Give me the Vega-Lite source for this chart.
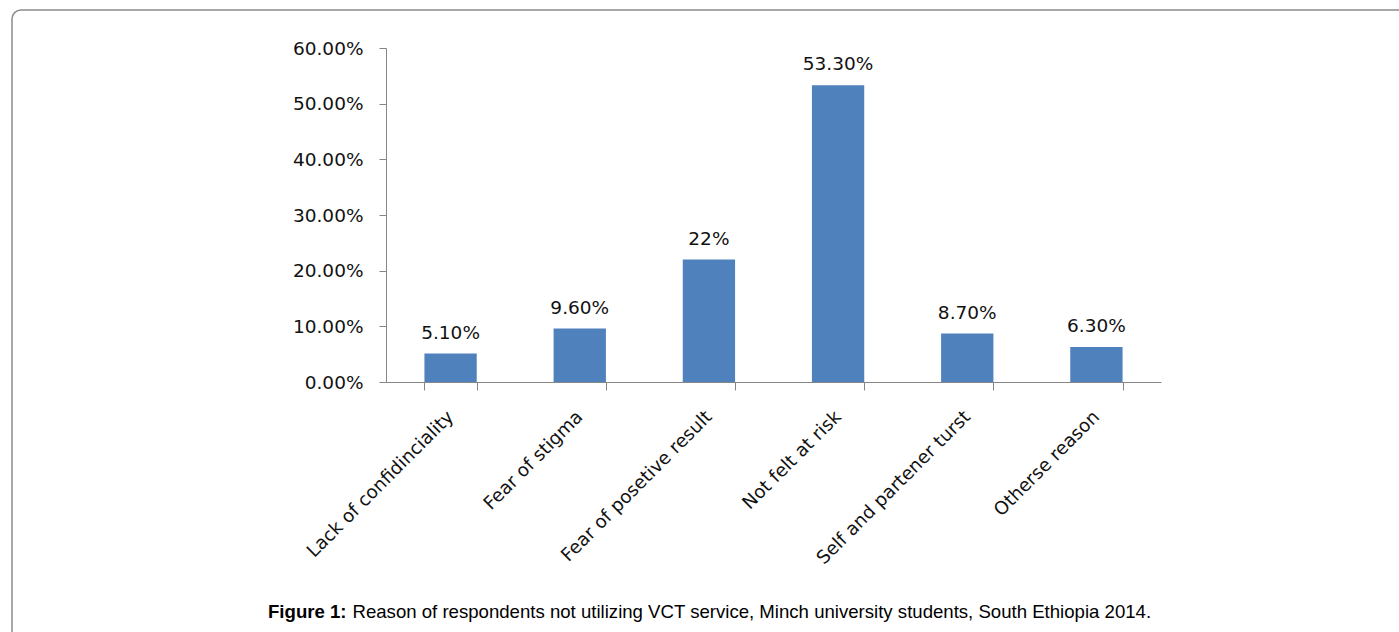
{
  "$schema": "https://vega.github.io/schema/vega-lite/v6.json",
  "autosize": {"type": "none"},
  "padding": {"left": 12, "top": 10, "right": 0, "bottom": 0},
  "width": 1400,
  "height": 640,
  "background": "white",
  "view": {"stroke": "#8c8c8c", "strokeWidth": 1.5, "cornerRadius": 9, "fill": "white"},
  "config": {"font": "DejaVu Sans"},
  "title": {
    "text": "Figure 1:",
    "font": "Liberation Sans",
    "fontWeight": "bold",
    "fontSize": 18.6,
    "color": "#000000",
    "anchor": "start",
    "frame": "group",
    "orient": "top",
    "offset": 0,
    "dx": 256,
    "dy": 627,
    "baseline": "alphabetic"
  },
  "data": {
    "values": [
      {"reason": "Lack of confidinciality", "value": 0.051, "label": "5.10%"},
      {"reason": "Fear of stigma", "value": 0.096, "label": "9.60%"},
      {"reason": "Fear  of posetive result", "value": 0.22, "label": "22%"},
      {"reason": "Not felt at risk", "value": 0.533, "label": "53.30%"},
      {"reason": "Self and partener turst", "value": 0.087, "label": "8.70%"},
      {"reason": "Otherse reason", "value": 0.063, "label": "6.30%"}
    ]
  },
  "encoding": {
    "x": {
      "field": "reason",
      "type": "nominal",
      "sort": null,
      "scale": {"range": [374, 1149], "paddingInner": 0.595, "paddingOuter": 0.2975},
      "axis": {
        "orient": "bottom",
        "offset": -268,
        "labelAngle": -45,
        "labelAlign": "right",
        "labelBaseline": "middle",
        "labelFontSize": 18.3,
        "labelColor": "#111111",
        "labelPadding": 24,
        "labelLimit": 400,
        "labelOverlap": false,
        "tickBand": "extent",
        "tickSize": 8,
        "tickColor": "#868686",
        "domainColor": "#868686",
        "title": "Reason of respondents not utilizing VCT service, Minch university students, South Ethiopia 2014.",
        "titleFont": "Liberation Sans",
        "titleFontWeight": "normal",
        "titleFontSize": 18.6,
        "titleColor": "#000000",
        "titleX": 340,
        "titleY": 235,
        "titleAlign": "left",
        "titleBaseline": "alphabetic"
      }
    },
    "y": {
      "field": "value",
      "type": "quantitative",
      "scale": {"domain": [0, 0.6], "range": [372, 38], "nice": false},
      "axis": {
        "orient": "left",
        "offset": -374,
        "values": [0, 0.1, 0.2, 0.3, 0.4, 0.5, 0.6],
        "format": ".2%",
        "tickSize": 7,
        "labelFontSize": 18.5,
        "labelColor": "#111111",
        "labelPadding": 16,
        "grid": false,
        "title": null,
        "tickColor": "#868686",
        "domainColor": "#868686"
      }
    }
  },
  "layer": [
    {"mark": {"type": "bar", "color": "#4F81BD"}},
    {
      "mark": {"type": "text", "baseline": "alphabetic", "dy": -15, "fontSize": 18.5, "color": "#111111"},
      "encoding": {"text": {"field": "label"}}
    }
  ]
}
